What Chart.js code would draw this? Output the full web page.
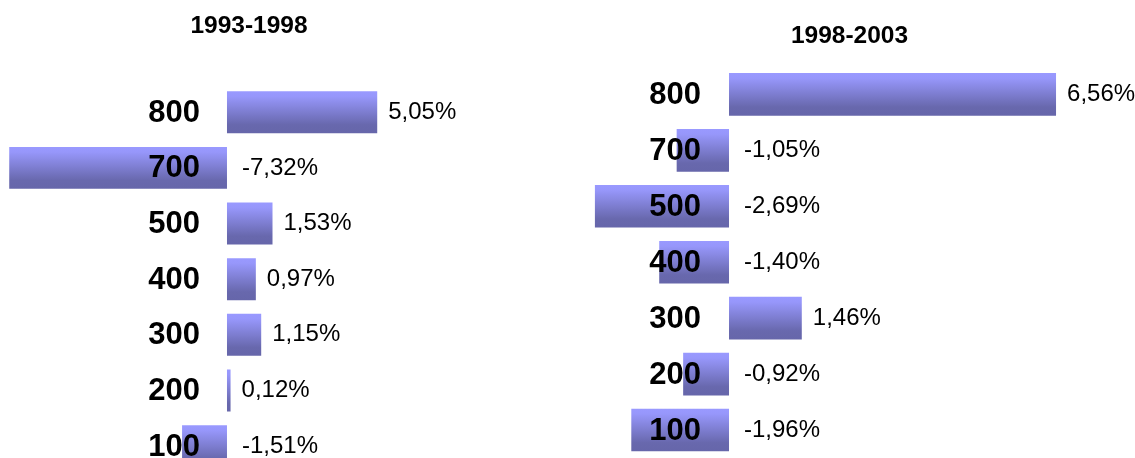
<!DOCTYPE html>
<html>
<head>
<meta charset="utf-8">
<script src="https://cdn.jsdelivr.net/npm/chart.js@4/dist/chart.umd.min.js"></script>
<style>
  body { margin: 0; overflow: hidden; background: #fff; }
  canvas { position: absolute; top: 0; }
</style>
</head>
<body>
<canvas id="chartLeft" width="498" height="474" style="left:0"></canvas>
<canvas id="chartRight" width="571" height="458" style="left:564px"></canvas>
<script>
// Data
const categories = ['800', '700', '500', '400', '300', '200', '100'];
const periods = ['1993-1998', '1998-2003'];
const values9398 = [5.05, -7.32, 1.53, 0.97, 1.15, 0.12, -1.51];
const values9803 = [6.56, -1.05, -2.69, -1.40, 1.46, -0.92, -1.96];

const FONT = "'Liberation Sans', Arial, Helvetica, sans-serif";

// Format a value the way the picture does: comma decimal and a percent sign
function formatPercent(v) {
    return v.toFixed(2).replace('.', ',') + '%';
}

// Vertical gradient for each bar, worked out from the category scale
function barGradient(c, catPct) {
    const chart = c.chart;
    const area = chart.chartArea;
    if (!area || c.type !== 'data') return '#8080d5';
    const yScale = chart.scales.y;
    const pitch = (area.bottom - area.top) / categories.length;
    const center = yScale.getPixelForValue(c.dataIndex);
    const half = pitch * catPct / 2;
    const g = chart.ctx.createLinearGradient(0, center - half, 0, center + half);
    g.addColorStop(0, '#9999ff');
    g.addColorStop(0.12, '#9797fb');
    g.addColorStop(0.8, '#6868ad');
    g.addColorStop(1, '#6666aa');
    return g;
}

// Plugin that draws the category labels near zero and the value labels
const labelPlugin = {
    id: 'barLabels',
    afterDatasetsDraw(chart, args, opts) {
        const ctx = chart.ctx;
        const xs = chart.scales.x;
        const ys = chart.scales.y;
        const zero = xs.getPixelForValue(0);
        const values = chart.data.datasets[0].data;
        ctx.save();
        ctx.fillStyle = '#000';
        ctx.textBaseline = 'middle';
        values.forEach((v, i) => {
            const yc = ys.getPixelForValue(i);
            ctx.font = 'bold 31px ' + FONT;
            ctx.textAlign = 'right';
            ctx.fillText(chart.data.labels[i], zero - opts.catGap, yc + 1);

            const end = xs.getPixelForValue(v);
            const x0 = Math.max(end, zero) + (v >= 0 ? opts.posGap : opts.negGap);
            ctx.font = '24px ' + FONT;
            ctx.textAlign = 'left';
            ctx.fillText(formatPercent(v), x0, yc);
        });
        ctx.restore();
    }
};

function createChart(canvasId, title, values, cfg) {
    const ctx = document.getElementById(canvasId).getContext('2d');
    return new Chart(ctx, {
        type: 'bar',
        data: {
            labels: categories,
            datasets: [{
                data: values,
                backgroundColor: (c) => barGradient(c, cfg.catPct),
                borderWidth: 0,
                barPercentage: 1,
                categoryPercentage: cfg.catPct,
            }],
        },
        options: {
            indexAxis: 'y',
            responsive: false,
            animation: false,
            layout: { padding: 0 },
            scales: {
                x: { type: 'linear', min: cfg.min, max: cfg.max, display: false },
                y: { type: 'category', display: false },
            },
            plugins: {
                legend: { display: false },
                tooltip: { enabled: false },
                title: {
                    display: true,
                    text: title,
                    color: '#000',
                    font: { family: FONT, size: 24.5, weight: 'bold' },
                    padding: { top: cfg.titleTop, bottom: cfg.titleBottom },
                },
                barLabels: { catGap: cfg.catGap, posGap: 11, negGap: 15 },
            },
        },
        plugins: [labelPlugin],
    });
}

createChart('chartLeft', periods[0], values9398, {
    min: -7.63, max: 9.11, catPct: 0.754, titleTop: 12, titleBottom: 43, catGap: 27,
});
createChart('chartRight', periods[1], values9803, {
    min: -3.31, max: 8.144, catPct: 0.762, titleTop: 22, titleBottom: 15, catGap: 28,
});
</script>
</body>
</html>
